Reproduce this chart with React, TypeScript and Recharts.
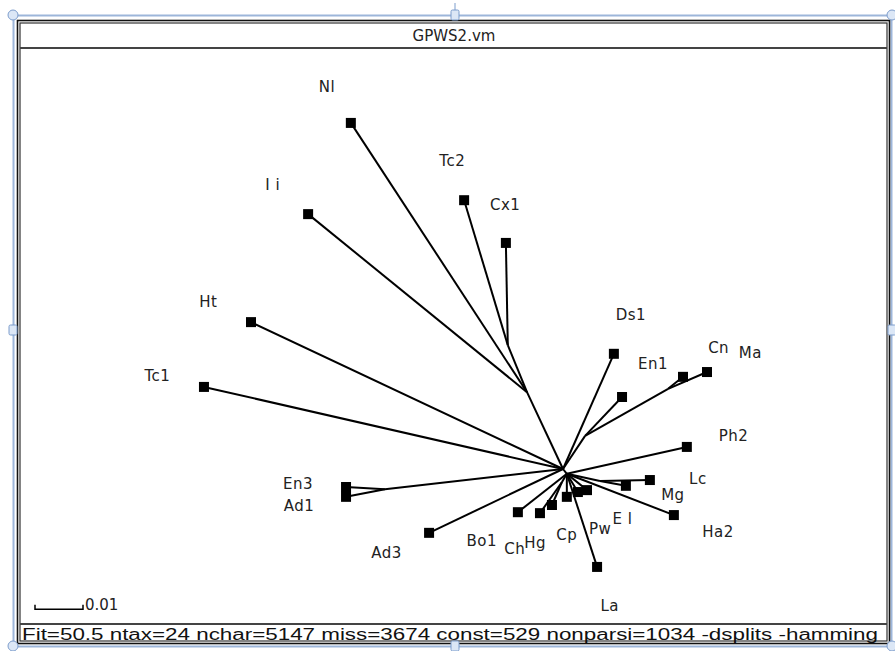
import React from 'react';
import { ScatterChart, Scatter, XAxis, YAxis, Customized } from 'recharts';

const W = 895;
const H = 651;

// tree units: 0.001 distance (scale bar of 0.01 = 10 units)
const internalNames = ['C0', 'C1', 'N1', 'N2', 'N3', 'N4', 'N5', 'N6', 'N7'];
const internalX = [0, 0.8, -7.5, -11.5, -37.1, -0.2, 4.6, 21.9, 7.7];
const internalY = [0, -1.0, 16.0, 25.8, -4.2, -2.7, 6.9, 16.7, -2.5];
const internalParent = ['', 'C0', 'C0', 'N1', 'C0', 'C1', 'C0', 'N5', 'C1'];

const taxa = ['Nl', 'I i', 'Tc2', 'Cx1', 'Ht', 'Tc1', 'En3', 'Ad1', 'Ad3', 'Bo1', 'Ch', 'Hg', 'Cp', 'Pw', 'E l', 'La', 'Mg', 'Lc', 'Ha2', 'Ph2', 'Ds1', 'En1', 'Cn', 'Ma'];
const taxaX = [-44.2, -53.1, -20.6, -11.9, -65.0, -74.8, -45.2, -45.2, -27.9, -9.4, -4.8, -2.3, 0.8, 3.1, 5.0, 7.1, 13.1, 18.1, 23.1, 25.8, 10.6, 12.3, 25.0, 30.0];
const taxaY = [72.1, 53.1, 56.0, 47.1, 30.6, 17.1, -3.75, -5.8, -13.3, -9.0, -9.2, -7.5, -5.8, -4.8, -4.4, -20.4, -3.5, -2.3, -9.6, 4.6, 24.0, 15.0, 19.2, 20.2];
const taxaParent = ['N1', 'N1', 'N2', 'N2', 'C0', 'C0', 'N3', 'N3', 'C0', 'C1', 'N4', 'N4', 'C1', 'C1', 'C1', 'C1', 'N7', 'N7', 'C1', 'C1', 'C0', 'N5', 'N6', 'N6'];

const scaleBarLength = 10; // = 0.01
const scaleBarLabel = '0.01';
const titleText = 'GPWS2.vm';
const statusText = 'Fit=50.5 ntax=24 nchar=5147 miss=3674 const=529 nonparsi=1034 -dsplits -hamming';

const pos: Record<string, { x: number; y: number }> = {};
internalNames.forEach((n, i) => (pos[n] = { x: internalX[i], y: internalY[i] }));
taxa.forEach((n, i) => (pos[n] = { x: taxaX[i], y: taxaY[i] }));

const edges: { key: string; data: { x: number; y: number }[] }[] = [];
internalNames.forEach((n, i) => {
  const p = internalParent[i];
  if (p) edges.push({ key: 'e-' + n, data: [pos[p], pos[n]] });
});
taxa.forEach((n, i) => {
  edges.push({ key: 'e-' + n, data: [pos[taxaParent[i]], pos[n]] });
});

const leaves = taxa.map((n, i) => {
  const p = pos[taxaParent[i]];
  const dx = taxaX[i] - p.x;
  const dy = taxaY[i] - p.y;
  const len = Math.sqrt(dx * dx + dy * dy) || 1;
  return { x: taxaX[i], y: taxaY[i], name: n, ux: dx / len, uy: dy / len };
});

const X_DOMAIN: [number, number] = [-563 / 4.8, (W - 563) / 4.8];
const Y_DOMAIN: [number, number] = [-(H - 469) / 4.8, 469 / 4.8];

const sbX0 = -110;
const sbY0 = -29.2;
const scaleBar = [
  { x: sbX0, y: sbY0 + 0.9 },
  { x: sbX0, y: sbY0 },
  { x: sbX0 + scaleBarLength, y: sbY0 },
  { x: sbX0 + scaleBarLength, y: sbY0 + 0.9 },
];
const scaleBarLabelPt = [{ x: sbX0 + scaleBarLength, y: sbY0 }];

const LABEL_FONT = '"DejaVu Sans", sans-serif';

const Nothing = () => <g />;

const LeafShape = (props: any) => {
  const { cx, cy, payload } = props;
  const ux = payload.ux;
  const uy = -payload.uy;
  const d = 38 + 10 * Math.abs(ux);
  return (
    <g>
      <rect x={cx - 5} y={cy - 5} width={10} height={10} fill="#000" />
      <text
        x={cx + ux * d}
        y={cy + uy * d}
        textAnchor="middle"
        dominantBaseline="central"
        fontFamily={LABEL_FONT}
        fontSize={15}
        letterSpacing={0.5}
        fill="#222"
      >
        {payload.name}
      </text>
    </g>
  );
};

const ScaleLabel = (props: any) => {
  const { cx, cy } = props;
  return (
    <text x={cx + 2} y={cy - 4} dominantBaseline="central" fontFamily={LABEL_FONT} fontSize={15} fill="#222">
      {scaleBarLabel}
    </text>
  );
};

const Frame = () => {
  const blue = '#9db6da';
  const handleFill = '#dce7f6';
  const handleStroke = '#7d9dcc';
  return (
    <g>
      <rect x={13.5} y={15.5} width={878} height={631} fill="none" stroke={blue} strokeWidth={2} />
      <rect x={17.5} y={20.5} width={872} height={623} fill="none" stroke="#111" strokeWidth={1.6} />
      <rect x={20} y={23} width={867} height={618} fill="none" stroke="#333" strokeWidth={1.2} />
      <line x1={20} x2={887} y1={48} y2={48} stroke="#444" strokeWidth={2} />
      <line x1={20} x2={887} y1={624} y2={624} stroke="#444" strokeWidth={2} />
      <text x={454} y={36} textAnchor="middle" dominantBaseline="central" fontFamily={LABEL_FONT} fontSize={15} fill="#222">
        {titleText}
      </text>
      <text
        x={22}
        y={634}
        dominantBaseline="central"
        fontFamily='"Liberation Sans Narrow", "Liberation Sans", sans-serif'
        fontSize={16}
        textLength={856}
        lengthAdjust="spacingAndGlyphs"
        fill="#111"
      >
        {statusText}
      </text>
      <line x1={455} x2={455} y1={3} y2={11} stroke={handleStroke} strokeWidth={1} />
      {[[13, 15], [892, 15], [13, 646], [892, 646]].map(([x, y], i) => (
        <circle key={'c' + i} cx={x} cy={y} r={5} fill={handleFill} stroke={handleStroke} strokeWidth={1} />
      ))}
      {[[455, 15], [13, 330], [892, 330], [455, 646]].map(([x, y], i) => (
        <rect key={'s' + i} x={x - 4} y={y - 5} width={8} height={10} rx={1.5} fill={handleFill} stroke={handleStroke} strokeWidth={1} />
      ))}
    </g>
  );
};

export default function App() {
  return (
    <div style={{ position: 'absolute', left: 0, top: 0, width: W, height: H, background: '#fff' }}>
      <ScatterChart width={W} height={H} margin={{ top: 0, right: 0, bottom: 0, left: 0 }}>
        <XAxis type="number" dataKey="x" hide domain={X_DOMAIN} allowDataOverflow />
        <YAxis type="number" dataKey="y" hide domain={Y_DOMAIN} allowDataOverflow />
        <Customized component={Frame} />
        {edges.map((e) => (
          <Scatter
            key={e.key}
            data={e.data}
            line={{ stroke: '#000', strokeWidth: 2 }}
            shape={Nothing}
            isAnimationActive={false}
          />
        ))}
        <Scatter data={scaleBar} line={{ stroke: '#000', strokeWidth: 1.5 }} shape={Nothing} isAnimationActive={false} />
        <Scatter data={scaleBarLabelPt} shape={ScaleLabel} isAnimationActive={false} />
        <Scatter data={leaves} shape={LeafShape} isAnimationActive={false} />
      </ScatterChart>
    </div>
  );
}
